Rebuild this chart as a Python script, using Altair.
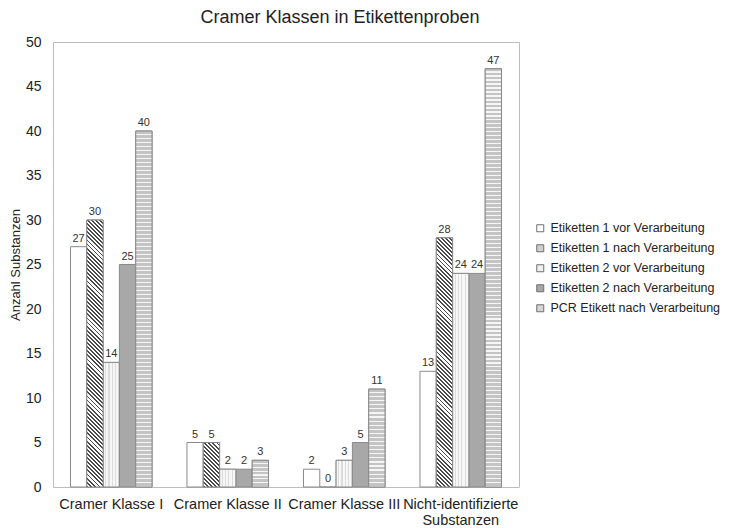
import math
import altair as alt
import pandas as pd

# ---------------- data ----------------
categories = ["Cramer Klasse I", "Cramer Klasse II", "Cramer Klasse III",
              "Nicht-identifizierte Substanzen"]
series = ["Etiketten 1 vor Verarbeitung", "Etiketten 1 nach Verarbeitung",
          "Etiketten 2 vor Verarbeitung", "Etiketten 2 nach Verarbeitung",
          "PCR Etikett nach Verarbeitung"]
e1_vor = [27, 5, 2, 13]
e1_nach = [30, 5, 0, 28]
e2_vor = [14, 2, 3, 24]
e2_nach = [25, 2, 5, 24]
pcr_nach = [40, 3, 11, 47]
y_ticks = [0, 5, 10, 15, 20, 25, 30, 35, 40, 45, 50]

values_by_series = [e1_vor, e1_nach, e2_vor, e2_nach, pcr_nach]
rows = []
for s, vals in zip(series, values_by_series):
    for c, v in zip(categories, vals):
        rows.append({"cat": c, "series": s, "value": v})
df = pd.DataFrame(rows)

# ---------------- layout / style ----------------
W, H = 466, 445
YMAX = 50
PAD_IN, PAD_OUT = 0.3, 0.15
FONT = "Liberation Sans"
TXT = "#222222"
STROKE = "#8a8a8a"

step = W / (len(categories) - PAD_IN + 2 * PAD_OUT)
bar_w = step * (1 - PAD_IN) / len(series)
px_per_unit = H / YMAX


def hard_stops(n, c1, c2, frac):
    stops = []
    for k in range(n):
        a = k / n
        b = (k + frac) / n
        e = (k + 1) / n
        stops += [{"offset": a, "color": c1}, {"offset": b, "color": c1},
                  {"offset": b, "color": c2}, {"offset": e, "color": c2}]
    return stops


def hatch_gradient(h_px):
    w = bar_w
    h = max(h_px, 1.0)
    k = (w + h) / (w * w + h * h)
    length = (w + h) / math.sqrt(2)
    n = max(1, int(round(length / 2.9)))
    return {"gradient": "linear", "x1": 0, "y1": 1, "x2": w * k, "y2": 1 - h * k,
            "stops": hard_stops(n, "#4a4a4a", "#ffffff", 0.45)}


def hstripe_gradient(h_px):
    n = max(1, int(round(h_px / 4.0)))
    return {"gradient": "linear", "x1": 0, "y1": 0, "x2": 0, "y2": 1,
            "stops": hard_stops(n, "#c4c4c4", "#f6f6f6", 0.7)}


dot_gradient = {"gradient": "linear", "x1": 0, "y1": 0, "x2": 1, "y2": 0,
                "stops": hard_stops(5, "#f7f7f7", "#dcdcdc", 0.65)}

label_expr = ("datum.label == 'Nicht-identifizierte Substanzen' ? "
              "['Nicht-identifizierte', 'Substanzen'] : datum.label")

x_enc = alt.X("cat:N", sort=categories, title=None,
              scale=alt.Scale(paddingInner=PAD_IN, paddingOuter=PAD_OUT),
              axis=alt.Axis(labelAngle=0, ticks=False, domain=False,
                            labelPadding=10, labelFontSize=14.5, labelFont=FONT,
                            labelColor=TXT, labelLineHeight=16,
                            labelOverlap=False, labelExpr=label_expr))
xo_enc = alt.XOffset("series:N", sort=series,
                     scale=alt.Scale(paddingInner=0, paddingOuter=0))
y_enc = alt.Y("value:Q", title="Anzahl Substanzen",
              scale=alt.Scale(domain=[0, YMAX]),
              axis=alt.Axis(values=y_ticks, grid=False, ticks=False,
                            domain=False, labelPadding=12, labelFontSize=14,
                            labelFont=FONT, labelColor=TXT,
                            titleFont=FONT, titleFontSize=13,
                            titleFontWeight="normal", titleColor=TXT,
                            titlePadding=3))

legend_fills = ["#ffffff", "#cfcfcf", "#f0f0f0", "#a8a8a8", "#d6d6d6"]

base = alt.Chart(df).mark_bar(stroke=STROKE, strokeWidth=1).encode(
    x=x_enc, xOffset=xo_enc, y=y_enc,
    color=alt.Color("series:N", sort=series,
                    scale=alt.Scale(domain=series, range=legend_fills),
                    legend=alt.Legend(title=None, orient="none",
                                      legendX=481, legendY=180,
                                      symbolType="square", symbolSize=49,
                                      symbolStrokeColor="#6e6e6e",
                                      symbolStrokeWidth=1,
                                      labelFont=FONT, labelFontSize=12.5,
                                      labelColor=TXT, labelOffset=4,
                                      rowPadding=7, labelLimit=300)),
)

layers = [base]

# dotted series (uniform, single layer)
layers.append(
    alt.Chart(df).transform_filter(alt.datum.series == series[2])
    .mark_bar(fill=dot_gradient, stroke=STROKE, strokeWidth=1)
    .encode(x=x_enc, xOffset=xo_enc, y=y_enc)
)

# hatched and striped series: one layer per bar so the pattern density stays constant
for c, v in zip(categories, e1_nach):
    if v <= 0:
        continue
    layers.append(
        alt.Chart(df).transform_filter(
            (alt.datum.series == series[1]) & (alt.datum.cat == c))
        .mark_bar(fill=hatch_gradient(v * px_per_unit), stroke=STROKE, strokeWidth=1)
        .encode(x=x_enc, xOffset=xo_enc, y=y_enc)
    )
for c, v in zip(categories, pcr_nach):
    if v <= 0:
        continue
    layers.append(
        alt.Chart(df).transform_filter(
            (alt.datum.series == series[4]) & (alt.datum.cat == c))
        .mark_bar(fill=hstripe_gradient(v * px_per_unit), stroke=STROKE, strokeWidth=1)
        .encode(x=x_enc, xOffset=xo_enc, y=y_enc)
    )

labels = alt.Chart(df).mark_text(baseline="bottom", dy=-3, fontSize=11,
                                 font=FONT, color="#333333").encode(
    x=x_enc, xOffset=xo_enc, y=y_enc, text=alt.Text("value:Q"))
layers.append(labels)

chart = alt.layer(*layers).properties(
    width=W, height=H,
    title=alt.TitleParams("Cramer Klassen in Etikettenproben", font=FONT,
                          fontSize=18, fontWeight="normal", color=TXT,
                          anchor="middle", offset=8, dx=54),
    autosize=alt.AutoSizeParams(type="none"),
    padding={"left": 45, "top": 34, "right": 219, "bottom": 41},
).configure_view(stroke="#bdbdbd", strokeWidth=1)

chart.save("out.html", embed_options={"renderer": "svg", "actions": False})
